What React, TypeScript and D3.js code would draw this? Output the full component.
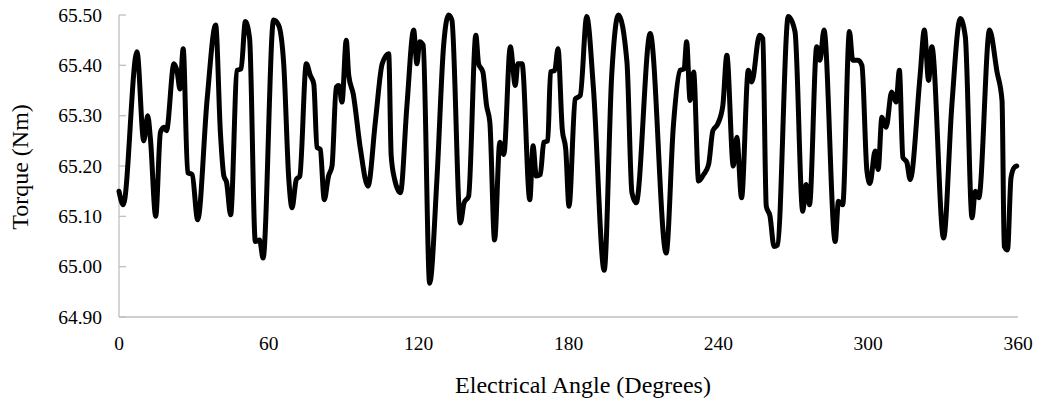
import React from "react";
import * as d3 from "d3";

const angles = [
  0, 1.7, 7.2, 9.9, 11.5, 12.6, 14.7, 16.6, 18.0, 19.0, 22.0, 23.3, 24.4, 25.7, 27.5, 29.3, 31.5, 35.3, 38.7, 40.6,
  42.0, 43.1, 44.7, 47.3, 48.9, 50.6, 52.3, 54.6, 56.3, 57.7, 61.9, 63.9, 66.0, 68.0, 69.3, 71.0, 72.4, 75.0, 76.6, 78.0,
  79.3, 80.6, 82.2, 83.9, 85.3, 87.0, 88.0, 89.3, 91.0, 92.0, 93.8, 96.7, 99.7, 102.7, 105.4, 108.0, 109.0, 110.4, 112.7, 115.3,
  118.0, 119.3, 120.4, 121.8, 124.4, 127.3, 130.0, 132.0, 133.3, 136.7, 138.2, 140.0, 142.9, 144.0, 145.7, 147.2, 148.5, 150.4, 152.5, 154.1,
  156.7, 158.7, 159.7, 161.4, 164.5, 165.8, 167.1, 168.7, 170.1, 171.7, 172.8, 174.5, 175.8, 177.5, 178.9, 180.2, 182.7, 184.7, 187.3, 190.0,
  194.3, 197.3, 200.0, 203.4, 205.4, 207.1, 212.7, 219.1, 222.0, 224.7, 226.3, 227.3, 228.7, 230.1, 232.1, 234.1, 236.1, 237.8, 239.7, 241.8,
  243.4, 246.0, 247.4, 249.3, 252.0, 253.4, 256.5, 257.8, 259.2, 260.7, 262.3, 263.7, 268.0, 270.7, 273.8, 275.1, 276.5, 279.4, 280.7, 282.3,
  286.8, 288.1, 289.8, 292.5, 293.8, 296.0, 297.5, 299.5, 300.7, 302.8, 304.0, 305.5, 307.2, 309.4, 311.2, 312.5, 313.9, 315.5, 316.8, 320.8,
  322.5, 324.2, 325.5, 330.2, 333.5, 336.9, 338.9, 341.6, 342.9, 344.3, 348.6, 351.6, 353.6, 354.5, 355.8, 357.2, 358.5, 359.5,
];

const torque = [
  65.15, 65.123, 65.427, 65.25, 65.3, 65.253, 65.1, 65.267, 65.277, 65.27, 65.403, 65.387, 65.353, 65.433, 65.187, 65.183, 65.093, 65.333, 65.48, 65.267,
  65.18, 65.167, 65.103, 65.39, 65.393, 65.487, 65.453, 65.05, 65.053, 65.017, 65.49, 65.48, 65.4, 65.173, 65.117, 65.173, 65.18, 65.403, 65.38, 65.363,
  65.237, 65.233, 65.133, 65.18, 65.2, 65.357, 65.36, 65.327, 65.45, 65.38, 65.343, 65.233, 65.16, 65.29, 65.403, 65.423, 65.22, 65.173, 65.147, 65.32,
  65.47, 65.403, 65.447, 65.44, 64.967, 65.173, 65.44, 65.5, 65.49, 65.087, 65.127, 65.14, 65.46, 65.403, 65.387, 65.32, 65.287, 65.053, 65.247, 65.223,
  65.437, 65.36, 65.403, 65.403, 65.133, 65.24, 65.18, 65.183, 65.247, 65.25, 65.387, 65.39, 65.433, 65.273, 65.233, 65.12, 65.333, 65.34, 65.497, 65.353,
  64.993, 65.38, 65.5, 65.407, 65.147, 65.127, 65.463, 65.027, 65.28, 65.39, 65.393, 65.447, 65.33, 65.387, 65.17, 65.183, 65.203, 65.27, 65.283, 65.32,
  65.42, 65.2, 65.257, 65.137, 65.39, 65.367, 65.46, 65.453, 65.12, 65.1, 65.04, 65.043, 65.497, 65.467, 65.11, 65.163, 65.123, 65.437, 65.41, 65.47,
  65.05, 65.13, 65.123, 65.467, 65.41, 65.41, 65.4, 65.19, 65.165, 65.23, 65.193, 65.297, 65.277, 65.347, 65.327, 65.39, 65.217, 65.207, 65.173, 65.38,
  65.47, 65.37, 65.437, 65.057, 65.32, 65.493, 65.457, 65.097, 65.15, 65.137, 65.47, 65.387, 65.33, 65.04, 65.033, 65.177, 65.197, 65.2,
];

const xTicks = [0, 60, 120, 180, 240, 300, 360];
const yTicks = [64.9, 65.0, 65.1, 65.2, 65.3, 65.4, 65.5];

const W = 1038;
const H = 411;
const FONT = "'Liberation Serif', 'Times New Roman', serif";

export default function App() {
  const x = d3.scaleLinear().domain([0, 360]).range([119, 1018]);
  const y = d3.scaleLinear().domain([64.9, 65.5]).range([317, 15]);
  const pts: [number, number][] = angles.map((a, i) => [a, torque[i]]);
  const line = d3
    .line<[number, number]>()
    .x((d) => x(d[0]))
    .y((d) => y(d[1]))
    .curve(d3.curveMonotoneX);
  const axisColor = "#bfbfbf";
  return (
    <svg
      width={W}
      height={H}
      style={{ position: "absolute", left: 0, top: 0, background: "#fff" }}
    >
      <rect x={0} y={0} width={W} height={H} fill="#fff" />
      <line x1={x(0)} x2={x(0)} y1={y(65.5)} y2={y(64.9)} stroke={axisColor} strokeWidth={1.3} />
      <line x1={x(0)} x2={x(360)} y1={y(64.9)} y2={y(64.9)} stroke={axisColor} strokeWidth={1.3} />
      {yTicks.map((t) => (
        <g key={t}>
          <line x1={x(0)} x2={x(0) + 7} y1={y(t)} y2={y(t)} stroke={axisColor} strokeWidth={1.3} />
          <text
            x={102}
            y={y(t)}
            dy="0.35em"
            textAnchor="end"
            fontFamily={FONT}
            fontSize={19.5}
            fill="#000"
          >
            {t.toFixed(2)}
          </text>
        </g>
      ))}
      {xTicks.map((t) => (
        <text
          key={t}
          x={x(t)}
          y={350}
          textAnchor="middle"
          fontFamily={FONT}
          fontSize={19.5}
          fill="#000"
        >
          {t}
        </text>
      ))}
      <path
        d={line(pts) || ""}
        fill="none"
        stroke="#000"
        strokeWidth={5}
        strokeLinejoin="round"
        strokeLinecap="round"
      />
      <text
        x={583}
        y={393}
        textAnchor="middle"
        fontFamily={FONT}
        fontSize={24}
        fill="#000"
      >
        Electrical Angle (Degrees)
      </text>
      <text
        transform={`translate(28,167) rotate(-90)`}
        textAnchor="middle"
        fontFamily={FONT}
        fontSize={24}
        fill="#000"
      >
        Torque (Nm)
      </text>
    </svg>
  );
}
